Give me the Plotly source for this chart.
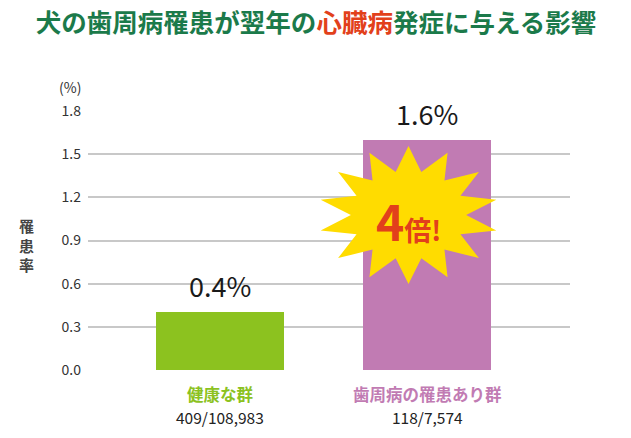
import numpy as np
import plotly.graph_objects as go

# ---- data ----
groups = ["健康な群", "歯周病の罹患あり群"]
counts = ["409/108,983", "118/7,574"]
rates = [0.4, 1.6]
value_labels = ["0.4%", "1.6%"]
y_ticks = [0.0, 0.3, 0.6, 0.9, 1.2, 1.5, 1.8]
y_tick_labels = ["0.0", "0.3", "0.6", "0.9", "1.2", "1.5", "1.8"]

bar_colors = ["#8cc21f", "#c17bb3"]
label_colors = ["#8cc21f", "#c17bb3"]
FONT = "Noto Sans CJK JP"

W, H = 631, 438

x_pos = list(range(len(groups)))

fig = go.Figure()
fig.add_trace(go.Bar(
    x=x_pos, y=rates, width=0.62,
    marker=dict(color=bar_colors, line=dict(width=0)),
    hoverinfo="skip", showlegend=False,
))

annotations = []
# value labels above bars
for xi, v, t in zip(x_pos, rates, value_labels):
    annotations.append(dict(x=xi, y=v, xref="x", yref="y", text=t, showarrow=False,
                            yanchor="bottom", yshift=5,
                            font=dict(family=FONT, size=27, color="#1a1a1a")))
# category labels below
for xi, g, c, col in zip(x_pos, groups, counts, label_colors):
    annotations.append(dict(x=xi, y=0, xref="x", yref="paper", text="<b>" + g + "</b>",
                            showarrow=False, yanchor="middle", yshift=-24,
                            font=dict(family=FONT, size=16.5, color=col)))
    annotations.append(dict(x=xi, y=0, xref="x", yref="paper", text=c,
                            showarrow=False, yanchor="middle", yshift=-47,
                            font=dict(family=FONT, size=15.5, color="#222222")))

# starburst decoration near the second bar
cx, cy = 0.91, 1.077
rx, ry = 0.435, 0.48
n = 14
inner = 0.64
pts = []
for k in range(2 * n):
    t = -np.pi / 2 + k * np.pi / n
    r = 1.0 if k % 2 == 0 else inner
    pts.append((cx + rx * r * np.cos(t), cy - ry * r * np.sin(t)))
path = "M " + " L ".join(f"{px:.4f},{py:.4f}" for px, py in pts) + " Z"
shapes = [dict(type="path", path=path, xref="x", yref="y", layer="above",
               fillcolor="#ffdc00", line=dict(width=0))]

annotations.append(dict(x=cx, y=cy, xref="x", yref="y",
                        text="<b><span style='font-size:48px'>4</span><span style='font-size:27px'>倍!</span></b>",
                        showarrow=False, yanchor="middle", xanchor="center", yshift=-5,
                        font=dict(family=FONT, size=27, color="#e2401b")))

# y-axis title and unit
annotations.append(dict(x=0, y=0.5, xref="paper", yref="paper", text="<b>罹<br>患<br>率</b>",
                        showarrow=False, xshift=-62, yshift=-4, xanchor="center", yanchor="middle",
                        font=dict(family=FONT, size=15, color="#444444")))
annotations.append(dict(x=0, y=1, xref="paper", yref="paper", text="(%)",
                        showarrow=False, xshift=-18, yshift=24, xanchor="center", yanchor="middle",
                        font=dict(family=FONT, size=14, color="#333333")))

fig.update_layout(
    width=W, height=H,
    margin=dict(l=88, r=61, t=111, b=68),
    paper_bgcolor="white", plot_bgcolor="white",
    title=dict(
        text="<b>犬の歯周病罹患が翌年の<span style='color:#e2401b'>心臓病</span>発症に与える影響</b>",
        x=316 / W, xanchor="center", y=1 - 23 / H, yanchor="middle",
        font=dict(family=FONT, size=25.5, color="#1b7a4a"),
    ),
    xaxis=dict(range=[-0.638, 1.69], showticklabels=False, showgrid=False,
               zeroline=False, showline=False, fixedrange=True),
    yaxis=dict(range=[0, 1.8], tickvals=y_ticks, ticktext=y_tick_labels,
               showgrid=True, gridcolor="#c8c8c8", gridwidth=1.5,
               zeroline=False, showline=False, ticks="", ticklabelstandoff=6,
               tickfont=dict(family=FONT, size=14, color="#333333"), fixedrange=True),
    shapes=shapes,
    annotations=annotations,
    bargap=0,
)

# remove the default 8px page margin so the figure fills the window exactly
fig.write_html("out.html",
               config={"displayModeBar": False},
               post_script="document.body.style.margin='0';document.body.style.overflow='hidden';")
